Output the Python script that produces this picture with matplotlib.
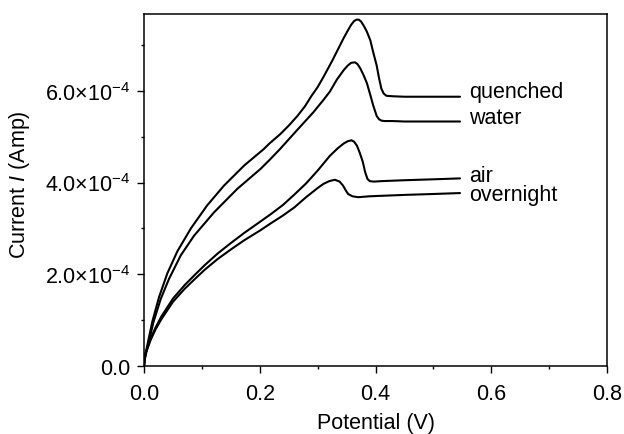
import matplotlib
matplotlib.use("Agg")
import matplotlib.pyplot as plt
from matplotlib.ticker import MultipleLocator, FuncFormatter

plt.rcParams['font.family'] = ['Liberation Sans', 'DejaVu Sans']
plt.rcParams['mathtext.fontset'] = 'custom'
plt.rcParams['mathtext.rm'] = 'Liberation Sans'
plt.rcParams['mathtext.it'] = 'Liberation Sans:italic'

# ---- data (potential in V, current in 1e-4 A) ----
quenched_v = [0, 0.001, 0.0025, 0.0058, 0.0144, 0.0259, 0.0403, 0.0576, 0.081, 0.109,
              0.138, 0.173, 0.207, 0.2175, 0.235, 0.25, 0.265, 0.278, 0.29, 0.30,
              0.31, 0.325, 0.335, 0.345, 0.352, 0.358, 0.363, 0.367, 0.371, 0.375,
              0.380, 0.385, 0.391, 0.396, 0.402, 0.406, 0.410, 0.414, 0.419, 0.43,
              0.45, 0.5, 0.546]
quenched_i = [0, 0.14, 0.26, 0.46, 0.97, 1.50, 2.02, 2.50, 3.00, 3.50,
              3.93, 4.37, 4.73, 4.86, 5.05, 5.24, 5.45, 5.66, 5.90, 6.08,
              6.30, 6.65, 6.90, 7.15, 7.31, 7.44, 7.52, 7.55, 7.55, 7.51,
              7.41, 7.29, 7.10, 6.84, 6.55, 6.28, 6.05, 5.94, 5.89, 5.88,
              5.87, 5.87, 5.87]

water_v = [0, 0.001, 0.0028, 0.0069, 0.0161, 0.0288, 0.0432, 0.0634, 0.0864, 0.121,
           0.161, 0.2016, 0.2175, 0.235, 0.26, 0.2925, 0.31, 0.321, 0.333, 0.345,
           0.352, 0.358, 0.3646, 0.369, 0.374, 0.379, 0.385, 0.3905, 0.396, 0.402,
           0.406, 0.410, 0.415, 0.43, 0.45, 0.5, 0.546]
water_i = [0, 0.13, 0.24, 0.44, 0.95, 1.46, 1.90, 2.41, 2.84, 3.35,
           3.86, 4.30, 4.50, 4.73, 5.08, 5.53, 5.80, 5.98, 6.24, 6.45,
           6.55, 6.61, 6.62, 6.58, 6.48, 6.35, 6.17, 5.93, 5.68, 5.45,
           5.38, 5.35, 5.34, 5.34, 5.33, 5.33, 5.33]

air_v = [0, 0.001, 0.003, 0.0115, 0.02, 0.03, 0.05, 0.07, 0.0864, 0.105,
         0.127, 0.15, 0.173, 0.2, 0.219, 0.24, 0.26, 0.28, 0.30, 0.321,
         0.335, 0.345, 0.352, 0.3585, 0.363, 0.368, 0.373, 0.378, 0.382, 0.386,
         0.39, 0.397, 0.41, 0.45, 0.5, 0.546]
air_i = [0, 0.14, 0.30, 0.60, 0.84, 1.08, 1.47, 1.76, 1.97, 2.20,
         2.45, 2.68, 2.90, 3.14, 3.31, 3.51, 3.74, 3.98, 4.26, 4.58,
         4.75, 4.85, 4.90, 4.92, 4.89, 4.80, 4.64, 4.45, 4.23, 4.08,
         4.03, 4.02, 4.03, 4.05, 4.07, 4.09]

overnight_v = [0, 0.001, 0.003, 0.0115, 0.02, 0.03, 0.05, 0.07, 0.0864, 0.105,
               0.127, 0.15, 0.173, 0.2, 0.219, 0.24, 0.26, 0.28, 0.30, 0.31,
               0.32, 0.3297, 0.338, 0.344, 0.349, 0.3526, 0.36, 0.37, 0.39, 0.45,
               0.5, 0.546]
overnight_i = [0, 0.13, 0.28, 0.57, 0.80, 1.02, 1.40, 1.68, 1.88, 2.10,
               2.33, 2.54, 2.74, 2.95, 3.11, 3.28, 3.46, 3.68, 3.88, 3.97,
               4.03, 4.06, 4.02, 3.93, 3.82, 3.75, 3.70, 3.68, 3.70, 3.73,
               3.75, 3.77]

series = [("quenched", quenched_v, quenched_i),
          ("water", water_v, water_i),
          ("air", air_v, air_i),
          ("overnight", overnight_v, overnight_i)]

label_pos = {"quenched": 5.98, "water": 5.42, "air": 4.16, "overnight": 3.73}

FS = 15.5

fig = plt.figure(figsize=(6.24, 4.35), dpi=100)
ax = fig.add_axes([0.2308, 0.1563, 0.7420, 0.8099])

for name, v, i in series:
    ax.plot(v, [x * 1e-4 for x in i], color='black', lw=1.5,
            solid_capstyle='round', solid_joinstyle='round')
    ax.text(0.562, label_pos[name] * 1e-4, name, fontsize=FS, va='center', ha='left')

ax.set_xlim(0, 0.8)
ax.set_ylim(0, 7.68e-4)
ax.xaxis.set_major_locator(MultipleLocator(0.2))
ax.xaxis.set_minor_locator(MultipleLocator(0.1))
ax.yaxis.set_major_locator(MultipleLocator(2e-4))
ax.yaxis.set_minor_locator(MultipleLocator(1e-4))

ax.xaxis.set_major_formatter(FuncFormatter(lambda x, p: f"{x:.1f}"))


def yfmt(y, p):
    if abs(y) < 1e-12:
        return "0.0"
    return r"$\mathregular{%.1f{\times}10^{-4}}$" % (y / 1e-4)


ax.yaxis.set_major_formatter(FuncFormatter(yfmt))

for s in ax.spines.values():
    s.set_linewidth(1.1)
ax.tick_params(axis='both', which='major', direction='out', length=4.8, width=1.0,
               labelsize=FS, pad=5)
ax.tick_params(axis='both', which='minor', direction='out', length=2.4, width=1.0)
ax.tick_params(axis='x', which='major', pad=7.5)

ax.set_xlabel("Potential (V)", fontsize=FS)
ax.set_ylabel(r"Current $\mathit{I}$ (Amp)", fontsize=FS)
ax.yaxis.set_label_coords(-0.242, 0.518)
ax.xaxis.set_label_coords(0.5, -0.131)

fig.savefig("out.png", dpi=100)
